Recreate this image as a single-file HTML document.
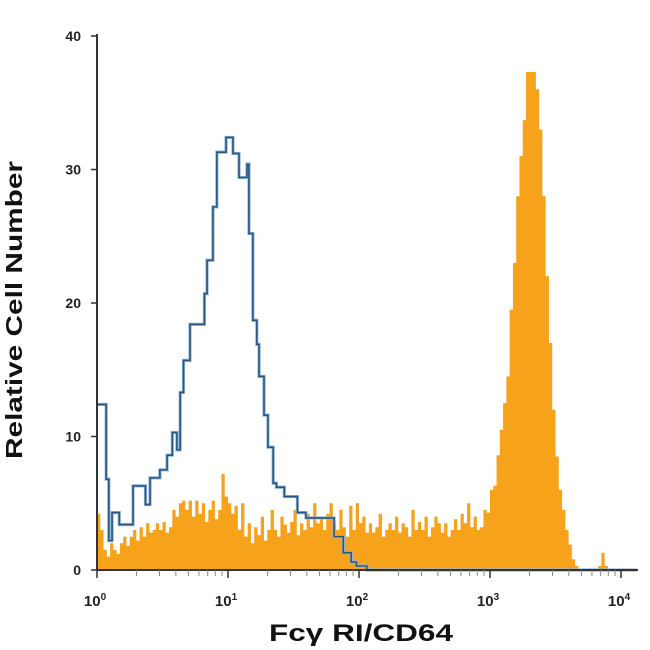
<!DOCTYPE html>
<html><head><meta charset="utf-8"><style>
html,body{margin:0;padding:0;background:#fff;}
svg{display:block;font-family:"Liberation Sans",sans-serif;}
</style></head><body>
<svg id="chart" width="650" height="650" viewBox="0 0 650 650">
<g id="orange"></g>
<g id="blue"></g>
<g id="axes"></g>
<text x="22" y="310" transform="rotate(-90 22 310)" text-anchor="middle" font-size="23" font-weight="bold" fill="#111" textLength="298" lengthAdjust="spacingAndGlyphs">Relative Cell Number</text>
<text x="361" y="641" text-anchor="middle" font-size="24" font-weight="bold" fill="#111" textLength="184" lengthAdjust="spacingAndGlyphs">Fcγ RI/CD64</text>
</svg>
<script>
const orangeBinWidth = 0.025;
const orangeCounts = [4.2,3.0,1.5,1.0,2.0,1.5,1.2,2.0,2.5,1.8,
2.5,3.0,2.2,3.2,2.5,3.5,2.8,3.0,3.5,3.0,3.6,2.8,3.2,4.5,4.0,5.0,
5.2,4.5,5.2,4.0,5.2,4.2,5.0,3.6,4.5,5.2,3.8,4.5,7.2,5.5,5.0,4.2,
4.8,3.0,5.0,2.5,3.5,2.0,3.2,2.6,4.0,2.2,3.0,4.5,3.0,2.5,4.0,3.4,
2.8,3.6,4.5,2.6,3.5,3.0,4.2,3.2,5.0,3.5,4.0,3.0,4.2,5.0,3.5,3.0,
4.5,3.2,2.5,4.8,3.0,5.0,3.5,4.0,2.8,3.5,2.8,3.2,4.2,2.5,3.0,3.5,
3.0,4.0,2.8,3.5,3.2,2.5,4.5,3.0,3.6,3.0,4.0,2.5,3.2,4.0,3.5,2.8,
3.5,2.5,3.0,3.8,3.0,4.2,3.5,5.0,3.2,4.0,3.0,3.2,4.5,4.3,6.0,6.3,
8.6,10.5,12.5,14.5,19.5,23,28,31,33.7,37.3,37.3,37.3,36,33,28,22,
17,12,8.5,6,4.5,3.0,1.9,0.8,0.3,0,0,0,0,0,0,0.3,1.3,0.3,0,0,0,0,0,0,0,0,0];
const blueEdges = [0.00,0.07,0.09,0.115,0.17,0.275,0.37,0.405,0.48,0.535,0.575,0.61,0.635,0.66,0.71,0.82,0.84,0.885,0.915,0.985,1.038,1.084,1.145,1.16,1.19,1.22,1.237,1.275,1.305,1.345,1.37,1.43,1.53,1.595,1.81,1.88,1.94,1.98,2.06,4.12];
const blueCounts = [12.4,6.8,2.2,4.3,3.4,6.3,4.9,6.9,7.5,8.6,10.3,9.0,13.3,15.7,18.4,20.7,23.2,27.2,31.3,32.4,31.2,29.4,30.4,25.2,18.7,16.9,14.5,11.6,9.2,6.5,6.2,5.5,4.3,3.9,2.5,1.3,0.6,0.3,0];
const yTicks = [0,10,20,30,40];
const xDecades = [0,1,2,3,4];

const NS='http://www.w3.org/2000/svg';
const X0=97, DEC=131, Y0=570, YPER=13.35;
const xs = l => X0 + l*DEC;
const ys = v => Y0 - v*YPER;
function mk(tag, attrs, parent){const e=document.createElementNS(NS,tag);for(const k in attrs)e.setAttribute(k,attrs[k]);parent.appendChild(e);return e;}

let d='M'+xs(0)+' '+Y0;
orangeCounts.forEach((c,i)=>{const a=xs(i*orangeBinWidth), b=xs((i+1)*orangeBinWidth);d+=' L'+a+' '+ys(c)+' L'+b+' '+ys(c);});
d+=' L'+xs(orangeCounts.length*orangeBinWidth)+' '+Y0+' Z';
const op=mk('path',{d:d,fill:'#f7a21b',stroke:'none'},document.getElementById('orange'));



let bd='';
blueCounts.forEach((c,i)=>{const a=xs(blueEdges[i]), b=xs(blueEdges[i+1]);bd+=(i===0?'M':' L')+a+' '+ys(c)+' L'+b+' '+ys(c);});
const bg=document.getElementById('blue');
const bp1=mk('path',{d:bd,fill:'none',stroke:'#8fb8d8','stroke-width':3.2},bg);


const bp=mk('path',{d:bd,fill:'none',stroke:'#2a5580','stroke-width':1.6},bg);



const ax=document.getElementById('axes');
const yl=mk('line',{x1:X0,y1:34,x2:X0,y2:Y0+1,stroke:'#333','stroke-width':2},ax);


const xl=mk('line',{x1:X0-1,y1:Y0,x2:638,y2:Y0,stroke:'#333','stroke-width':2},ax);


yTicks.forEach(v=>{
  const t=mk('line',{x1:X0-6,y1:ys(v),x2:X0,y2:ys(v),stroke:'#333','stroke-width':1.5},ax);
  
  
  const tx=mk('text',{x:X0-16,y:ys(v)+5,'text-anchor':'end','font-size':14,'font-weight':'bold',fill:'#222'},ax);
  tx.textContent=v;
  
  
});
xDecades.forEach(k=>{
  const t=mk('line',{x1:xs(k),y1:Y0,x2:xs(k),y2:Y0+8,stroke:'#333','stroke-width':1.5},ax);
  
  
  if(k<4){for(let m=2;m<=9;m++){const mt=mk('line',{x1:xs(k+Math.log10(m)),y1:Y0,x2:xs(k+Math.log10(m)),y2:Y0+6,stroke:'#888','stroke-width':1},ax);
    
    }}
  const tx=mk('text',{x:xs(k)-2,y:Y0+36,'text-anchor':'middle','font-size':15,'font-weight':'bold',fill:'#222'},ax);
  tx.textContent='10';
  const sp=mk('tspan',{dy:-6,'font-size':10},tx);
  sp.textContent=String(k);
  
  
});
{const mt=mk('line',{x1:xs(4+Math.log10(2)),y1:Y0,x2:xs(4+Math.log10(2)),y2:Y0+6,stroke:'#888','stroke-width':1},ax);

}
</script>
</body></html>
